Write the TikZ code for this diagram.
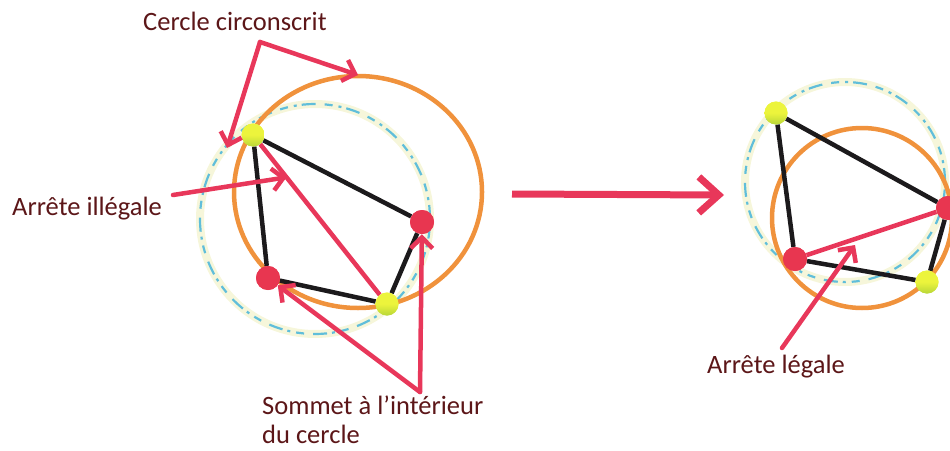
\documentclass[tikz,border=0pt]{standalone}
\usepackage{fontspec}
\setmainfont{Carlito}
\usetikzlibrary{arrows.meta}

\definecolor{pinkred}{RGB}{232,55,90}
\definecolor{circorange}{RGB}{240,146,60}
\definecolor{circcyan}{RGB}{96,190,218}
\definecolor{circpale}{RGB}{246,246,218}
\definecolor{edgeblack}{RGB}{28,26,28}
\definecolor{dotred}{RGB}{232,54,80}
\definecolor{dotyellow}{RGB}{236,244,60}
\definecolor{dotgreen}{RGB}{184,214,56}
\definecolor{labeltext}{RGB}{92,22,24}

\tikzset{
  edge/.style={draw=edgeblack, line width=4.5pt},
  badedge/.style={draw=pinkred, line width=4.5pt},
  orangecirc/.style={draw=circorange, line width=4.5pt},
  palecirc/.style={draw=circpale, line width=8pt},
  cyancirc/.style={draw=circcyan, line width=2.2pt,
    dash pattern=on 14pt off 5pt on 3pt off 6pt on 8pt off 9pt},
  ydot/.style={circle, inner sep=0pt, minimum size=23pt,
    top color=dotyellow, bottom color=dotgreen, middle color=dotyellow},
  rdot/.style={circle, inner sep=0pt, minimum size=24pt, fill=dotred},
  pointer/.style={draw=pinkred, line width=4.5pt, line cap=round,
    -{Straight Barb[length=11pt,width=22pt,line width=4.5pt]}},
  bigpointer/.style={draw=pinkred, line width=7pt,
    -{Straight Barb[length=20pt,width=36pt,line width=7pt]}},
  lbl/.style={text=labeltext, inner sep=0pt,
    font=\fontsize{26.5}{28.5}\selectfont},
}

\begin{document}
\begin{tikzpicture}[x=1pt, y=-1pt]
\useasboundingbox (0,0) rectangle (950,450);

% ---------- left configuration ----------
\draw[palecirc]  (315,219) circle[radius=115pt];
\draw[cyancirc]  (315,219) circle[radius=115pt];
\draw[orangecirc] (358,192) ellipse[x radius=124pt, y radius=116pt];

\node[ydot] (A) at (253,135) {};
\node[rdot] (B) at (422,222) {};
\node[ydot] (C) at (387,304) {};
\node[rdot] (D) at (268,278) {};

\draw[edge] (A) -- (B);
\draw[edge] (A) -- (D);
\draw[edge] (D) -- (C);
\draw[edge] (C) -- (B);
\draw[badedge] (A) -- (C);

\node[ydot] at (A) {};
\node[rdot] at (B) {};
\node[ydot] at (C) {};
\node[rdot] at (D) {};

% ---------- right configuration ----------
\draw[palecirc]  (845,182) circle[radius=100pt];
\draw[cyancirc]  (845,182) circle[radius=100pt];
\draw[orangecirc] (862,218) circle[radius=90pt];

\node[ydot] (P) at (776,113) {};
\node[rdot] (Q) at (948,208) {};
\node[ydot] (R) at (927,282) {};
\node[rdot] (S) at (795,259) {};

\draw[edge] (P) -- (Q);
\draw[edge] (P) -- (S);
\draw[edge] (S) -- (R);
\draw[edge] (R) -- (Q);
\draw[badedge] (S) -- (Q);

\node[ydot] at (P) {};
\node[rdot] at (Q) {};
\node[ydot] at (R) {};
\node[rdot] at (S) {};

% ---------- labels ----------
\node[lbl, anchor=base west] (circ) at (143,30) {Cercle circonscrit};
\node[lbl, anchor=base west] (illeg) at (12,215) {Arrête illégale};
\node[lbl, anchor=base west] (leg) at (707,373) {Arrête légale};
\node[lbl, anchor=north west, align=left] (som) at (262,396)
  {Sommet à l’intérieur\\du cercle};

% ---------- pointers ----------
\coordinate (circcorner) at (260,42);
\coordinate (orangetop) at (358,75);
\coordinate (cyanleft) at (227,148);
\draw[pointer] (circcorner) -- (orangetop);
\draw[pointer] (circcorner) -- (cyanleft);

\coordinate (illstart) at (173,195);
\path (A) -- (C) coordinate[pos=0.22] (illtip);
\draw[pointer] (illstart) -- (illtip);

\coordinate (somapex) at (420,392);
\draw[pointer] (somapex) -- (D);
\draw[pointer] (somapex) -- (B);

\coordinate (legstart) at (782,348);
\coordinate (legtip) at (855,245);
\draw[pointer] (legstart) -- (legtip);

\coordinate (flowstart) at (512,194);
\coordinate (flowend) at (724,195);
\draw[bigpointer] (flowstart) -- (flowend);
\end{tikzpicture}
\end{document}
